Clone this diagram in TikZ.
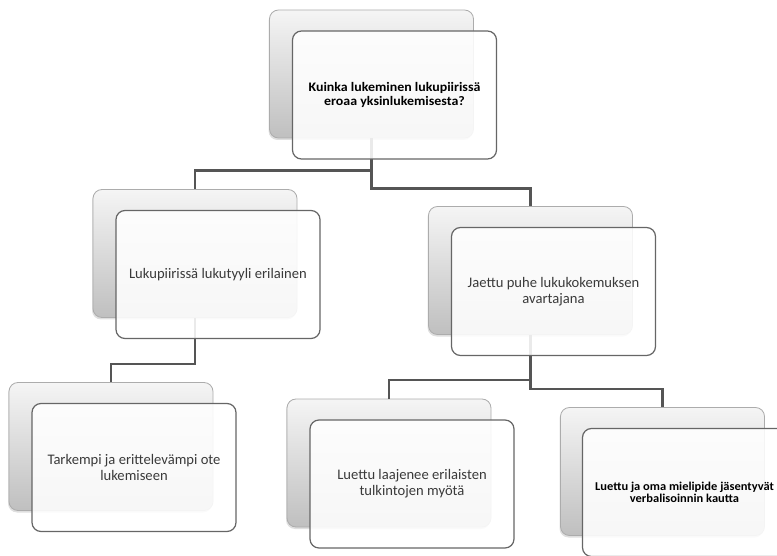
\documentclass[tikz,border=0pt]{standalone}
\usepackage{fontspec}
\setmainfont{Carlito}
\usepackage{xcolor}
\usetikzlibrary{positioning}
\usetikzlibrary{shadows}
\definecolor{linegray}{HTML}{555555}
\definecolor{darktext}{HTML}{3A3A3A}

\begin{document}
\begin{tikzpicture}[x=1pt,y=-1pt,
	backbox/.style={draw=gray!65,line width=0.8pt,rounded corners=9pt,minimum width=204pt,minimum height=128pt,
		top color=gray!8,bottom color=gray!50,drop shadow={shadow xshift=-1pt,shadow yshift=-2pt,opacity=0.25}},
	frontbox/.style={draw=gray!80!black,line width=1.2pt,rounded corners=9pt,minimum width=204pt,minimum height=128pt,
		fill=white,fill opacity=0.88,text opacity=1,align=center,text=darktext,font=\fontsize{14.6}{16}\selectfont},
	topbold/.style={font=\fontsize{13}{14}\selectfont\bfseries\addfontfeature{FakeStretch=1.07},text=black},
	smallbold/.style={font=\fontsize{12}{11.5}\selectfont\bfseries\addfontfeature{FakeStretch=1.04},text=black},
	link/.style={draw=linegray,line width=2.4pt}]
	\clip (0,0) rectangle (777,556);
	% back boxes
	\node[backbox] (b1) at (371.5,74) {};
	\node[backbox] (b2) at (195,253.5) {};
	\node[backbox] (b3) at (530.5,270.5) {};
	\node[backbox] (b4) at (111,446.5) {};
	\node[backbox] (b5) at (389,463) {};
	\node[backbox] (b6) at (662.5,471.5) {};
	% connectors
	\draw[link] (b1.south) -- ++(0,32) -| (b2.north);
	\draw[link] (b1.south) -- ++(0,50) -| (b3.north);
	\draw[link] (b2.south) -- ++(0,46) -| (b4.north);
	\draw[link] (b3.south) -- ++(0,45) -| (b5.north);
	\draw[link] (b3.south) -- ++(0,54) -| (b6.north);
	% front boxes
	\node[frontbox,topbold] (f1) at ([xshift=23pt,yshift=-21pt]b1.center) {Kuinka lukeminen lukupiirissä\\eroaa yksinlukemisesta?};
	\node[frontbox] (f2) at ([xshift=23pt,yshift=-21pt]b2.center) {Lukupiirissä lukutyyli erilainen};
	\node[frontbox] (f3) at ([xshift=23pt,yshift=-21pt]b3.center) {Jaettu puhe lukukokemuksen\\avartajana};
	\node[frontbox] (f4) at ([xshift=23pt,yshift=-21pt]b4.center) {Tarkempi ja erittelevämpi ote\\lukemiseen};
	\node[frontbox] (f5) at ([xshift=23pt,yshift=-21pt]b5.center) {Luettu laajenee erilaisten\\tulkintojen myötä};
	\node[frontbox,smallbold] (f6) at ([xshift=22pt,yshift=-21pt]b6.center) {Luettu ja oma mielipide jäsentyvät\\verbalisoinnin kautta};
\end{tikzpicture}
\end{document}
